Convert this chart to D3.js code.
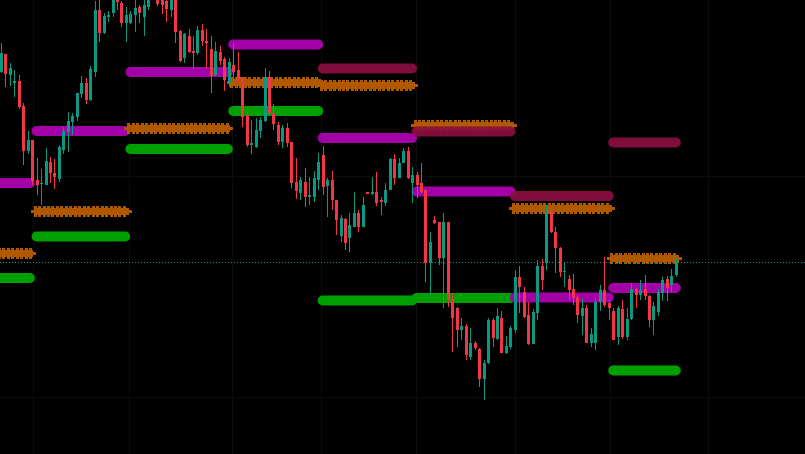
<!DOCTYPE html>
<html>
<head>
<meta charset="utf-8">
<script src="https://cdn.jsdelivr.net/npm/d3@7"></script>
<style>
html,body{margin:0;padding:0;background:#000;}
svg{display:block;}
</style>
</head>
<body>
<div id="chart"></div>
<script>
// ---- Data (prices) ----
const bars = d3.range(152);
const open = [1.2428,1.2446,1.2425,1.2417,1.2419,1.2394,1.2349,1.2360,1.2320,1.2316,
1.2315,1.2338,1.2327,1.2321,1.2350,1.2368,1.2378,1.2383,1.2406,1.2417,
1.2400,1.2428,1.2490,1.2467,1.2483,1.2487,1.2505,1.2497,1.2477,1.2477,
1.2485,1.2493,1.2483,1.2493,1.2520,1.2510,1.2500,1.2499,1.2490,1.2502,
1.2469,1.2442,1.2464,1.2449,1.2447,1.2470,1.2459,1.2451,1.2425,1.2448,
1.2441,1.2417,1.2435,1.2430,1.2423,1.2385,1.2355,1.2353,1.2369,1.2379,
1.2423,1.2387,1.2375,1.2358,1.2372,1.2358,1.2318,1.2307,1.2318,1.2303,
1.2303,1.2320,1.2345,1.2314,1.2320,1.2300,1.2264,1.2281,1.2262,1.2273,
1.2287,1.2273,1.2308,1.2306,1.2308,1.2300,1.2297,1.2310,1.2341,1.2322,
1.2337,1.2349,1.2317,1.2325,1.2317,1.2310,1.2237,1.2280,1.2278,1.2242,
1.2278,1.2200,1.2192,1.2170,1.2174,1.2143,1.2157,1.2151,1.2121,1.2137,
1.2180,1.2161,1.2182,1.2147,1.2153,1.2170,1.2223,1.2208,1.2185,1.2156,
1.2187,1.2234,1.2237,1.2289,1.2268,1.2252,1.2228,1.2221,1.2211,1.2203,
1.2184,1.2192,1.2157,1.2157,1.2198,1.2210,1.2197,1.2189,1.2163,1.2191,
1.2163,1.2181,1.2211,1.2205,1.2211,1.2204,1.2180,1.2188,1.2207,1.2221,
1.2215,1.2225];
const high = [1.2457,1.2446,1.2437,1.2430,1.2425,1.2397,1.2369,1.2360,1.2342,1.2331,
1.2352,1.2343,1.2341,1.2355,1.2373,1.2388,1.2387,1.2407,1.2424,1.2422,
1.2434,1.2499,1.2500,1.2487,1.2489,1.2510,1.2508,1.2499,1.2493,1.2489,
1.2500,1.2495,1.2500,1.2508,1.2525,1.2514,1.2503,1.2502,1.2506,1.2505,
1.2470,1.2467,1.2471,1.2464,1.2474,1.2476,1.2471,1.2464,1.2458,1.2454,
1.2443,1.2442,1.2457,1.2448,1.2423,1.2388,1.2380,1.2382,1.2383,1.2432,
1.2429,1.2396,1.2378,1.2375,1.2377,1.2358,1.2342,1.2323,1.2332,1.2323,
1.2329,1.2347,1.2354,1.2322,1.2329,1.2300,1.2285,1.2282,1.2287,1.2308,
1.2290,1.2303,1.2308,1.2323,1.2328,1.2303,1.2317,1.2342,1.2346,1.2342,
1.2352,1.2353,1.2333,1.2328,1.2337,1.2310,1.2268,1.2284,1.2278,1.2287,
1.2278,1.2207,1.2193,1.2182,1.2176,1.2172,1.2159,1.2152,1.2140,1.2182,
1.2182,1.2192,1.2189,1.2164,1.2174,1.2230,1.2234,1.2213,1.2198,1.2191,
1.2240,1.2241,1.2295,1.2291,1.2273,1.2253,1.2238,1.2225,1.2226,1.2205,
1.2201,1.2195,1.2172,1.2202,1.2215,1.2243,1.2200,1.2192,1.2194,1.2200,
1.2192,1.2217,1.2212,1.2220,1.2225,1.2205,1.2198,1.2211,1.2223,1.2224,
1.2231,1.2242];
const low = [1.2427,1.2413,1.2414,1.2403,1.2391,1.2335,1.2346,1.2315,1.2305,1.2295,
1.2315,1.2317,1.2311,1.2318,1.2346,1.2348,1.2365,1.2379,1.2402,1.2396,
1.2399,1.2423,1.2458,1.2466,1.2478,1.2483,1.2490,1.2473,1.2458,1.2476,
1.2468,1.2477,1.2464,1.2490,1.2503,1.2494,1.2486,1.2478,1.2483,1.2457,
1.2438,1.2437,1.2447,1.2432,1.2445,1.2454,1.2432,1.2407,1.2424,1.2435,
1.2409,1.2413,1.2420,1.2418,1.2373,1.2353,1.2346,1.2352,1.2362,1.2378,
1.2385,1.2370,1.2355,1.2352,1.2353,1.2312,1.2301,1.2300,1.2293,1.2295,
1.2298,1.2310,1.2305,1.2283,1.2290,1.2265,1.2258,1.2250,1.2248,1.2273,
1.2268,1.2273,1.2306,1.2305,1.2294,1.2285,1.2294,1.2310,1.2315,1.2322,
1.2337,1.2321,1.2297,1.2302,1.2307,1.2218,1.2205,1.2276,1.2235,1.2192,
1.2193,1.2148,1.2153,1.2160,1.2140,1.2140,1.2150,1.2113,1.2100,1.2136,
1.2153,1.2160,1.2147,1.2146,1.2151,1.2167,1.2187,1.2182,1.2155,1.2156,
1.2180,1.2210,1.2230,1.2267,1.2227,1.2223,1.2213,1.2200,1.2195,1.2177,
1.2165,1.2157,1.2153,1.2150,1.2189,1.2193,1.2180,1.2160,1.2155,1.2161,
1.2160,1.2180,1.2192,1.2200,1.2200,1.2173,1.2165,1.2184,1.2199,1.2199,
1.2208,1.2223];
const close = [1.2447,1.2426,1.2432,1.2419,1.2393,1.2349,1.2360,1.2319,1.2315,1.2317,
1.2339,1.2327,1.2323,1.2353,1.2369,1.2379,1.2384,1.2407,1.2417,1.2400,
1.2431,1.2490,1.2467,1.2484,1.2485,1.2503,1.2498,1.2477,1.2485,1.2486,
1.2492,1.2487,1.2495,1.2502,1.2508,1.2496,1.2495,1.2491,1.2503,1.2468,
1.2439,1.2466,1.2448,1.2447,1.2470,1.2459,1.2457,1.2424,1.2449,1.2439,
1.2420,1.2438,1.2428,1.2420,1.2383,1.2355,1.2357,1.2370,1.2380,1.2423,
1.2387,1.2376,1.2358,1.2372,1.2357,1.2317,1.2309,1.2320,1.2303,1.2305,
1.2322,1.2338,1.2313,1.2320,1.2300,1.2280,1.2282,1.2257,1.2275,1.2287,
1.2273,1.2295,1.2306,1.2308,1.2297,1.2298,1.2310,1.2341,1.2322,1.2337,
1.2349,1.2322,1.2325,1.2315,1.2308,1.2237,1.2258,1.2277,1.2242,1.2278,
1.2200,1.2182,1.2170,1.2174,1.2145,1.2157,1.2152,1.2121,1.2137,1.2180,
1.2162,1.2184,1.2147,1.2154,1.2172,1.2223,1.2213,1.2183,1.2156,1.2188,
1.2234,1.2220,1.2291,1.2268,1.2252,1.2228,1.2229,1.2210,1.2202,1.2185,
1.2192,1.2157,1.2166,1.2198,1.2210,1.2195,1.2192,1.2160,1.2192,1.2163,
1.2181,1.2211,1.2205,1.2210,1.2204,1.2180,1.2194,1.2208,1.2220,1.2212,
1.2224,1.2238];

// Level periods (start bar, end bar) and the level values per period
const periods = [[-2,6.5],[8,27.8],[29,50.8],[52,71],[72,92],[93,114],[115,136],[137,151]];
const levelMagenta = [1.2317,1.2369,1.2428,1.24555,1.2362,1.23085,1.22025,1.2212];
const levelOrange  = [1.22465,1.22885,1.23715,1.2418,1.24155,1.23755,1.22915,1.2242];
const levelGreen   = [1.2222,1.22635,1.2351,1.2389,1.21995,1.2202,null,1.21295];
const levelCrimson = [null,null,null,null,1.24315,1.23685,1.2304,1.23575];
const lastPrice = 1.22377;
const gridBars = [7.2,28.7,51.7,71.6,92.9,115.0,136.3,158.2];
const gridPrices = [1.2324,1.2103];

// ---- Drawing ----
const W = 805, H = 454;
const svg = d3.select('#chart').append('svg').attr('width', W).attr('height', H);
svg.append('rect').attr('width', W).attr('height', H).attr('fill', '#000');

const x = d3.scaleLinear().domain([0, 151]).range([0.8, 675.8]);
const y = d3.scaleLinear().domain([1.2046, 1.25]).range([H, 0]);

svg.append('defs').append('clipPath').attr('id','plot')
  .append('rect').attr('width', W).attr('height', H);
const g = svg.append('g').attr('clip-path','url(#plot)');

// grid (very faint)
g.selectAll('.vg').data(gridBars).join('line')
  .attr('x1', d => Math.round(x(d)) + 0.5).attr('x2', d => Math.round(x(d)) + 0.5)
  .attr('y1', 0).attr('y2', H).attr('stroke', '#0c0c0c').attr('stroke-width', 1);
g.selectAll('.hg').data(gridPrices).join('line')
  .attr('x1', 0).attr('x2', W)
  .attr('y1', d => Math.round(y(d)) + 0.5).attr('y2', d => Math.round(y(d)) + 0.5)
  .attr('stroke', '#0c0c0c').attr('stroke-width', 1);

// rounded level lines
function roundLevels(values, color, opacity) {
  const data = values.map((v, i) => ({v, p: periods[i]})).filter(d => d.v !== null);
  g.append('g').selectAll('line').data(data).join('line')
    .attr('x1', d => x(d.p[0])).attr('x2', d => x(d.p[1]))
    .attr('y1', d => y(d.v)).attr('y2', d => y(d.v))
    .attr('stroke', color).attr('stroke-width', 10)
    .attr('stroke-linecap', 'round').attr('opacity', opacity);
}
function orangeLevels(values, color) {
  const data = values.map((v, i) => ({v, p: periods[i]})).filter(d => d.v !== null);
  const og = g.append('g').attr('shape-rendering', 'crispEdges');
  data.forEach(d => {
    const x1 = x(d.p[0]), x2 = x(d.p[1]), yy = Math.round(y(d.v));
    og.append('rect').attr('x', Math.round(x1 - 6)).attr('width', Math.round(x2 - x1 + 12))
      .attr('y', yy - 1).attr('height', 3).attr('fill', color);
    og.append('rect').attr('x', Math.round(x1 - 3)).attr('width', Math.round(x2 - x1 + 6))
      .attr('y', yy - 3).attr('height', 7).attr('fill', color);
    const ticks = d3.range(x1 - 3, x2 + 3 - 2.5, 4.47);
    og.selectAll(null).data(ticks).join('rect')
      .attr('x', t => Math.round(t)).attr('width', 3)
      .attr('y', yy - 5).attr('height', 11).attr('fill', color);
  });
}
roundLevels(levelGreen, '#00a000', 1);
roundLevels(levelMagenta, '#a400a8', 1);
orangeLevels(levelOrange, '#b05800');
roundLevels(levelCrimson, '#8c0f40', 0.92);

// last price dotted line
g.append('line').attr('x1', 0).attr('x2', W)
  .attr('y1', Math.round(y(lastPrice)) + 0.5).attr('y2', Math.round(y(lastPrice)) + 0.5)
  .attr('stroke', '#0b8f7e').attr('stroke-width', 1).attr('stroke-dasharray', '1,2');

// candles
const up = '#089981', down = '#f23645';
const cg = g.append('g');
cg.selectAll('line').data(bars).join('line')
  .attr('x1', i => Math.round(x(i)) + 0.5).attr('x2', i => Math.round(x(i)) + 0.5)
  .attr('y1', i => y(high[i])).attr('y2', i => y(low[i]))
  .attr('stroke', i => close[i] >= open[i] ? up : down).attr('stroke-width', 1);
cg.selectAll('rect').data(bars).join('rect')
  .attr('x', i => Math.round(x(i)) - 1)
  .attr('width', 3)
  .attr('y', i => y(Math.max(open[i], close[i])))
  .attr('height', i => Math.max(1, Math.abs(y(open[i]) - y(close[i]))))
  .attr('fill', i => close[i] >= open[i] ? up : down);
</script>
</body>
</html>
